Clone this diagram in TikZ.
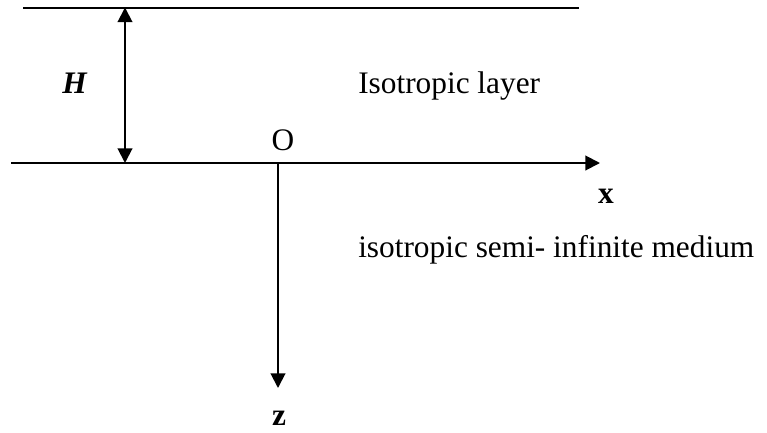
\documentclass[tikz,border=0pt]{standalone}
\usepackage{fontspec}
\setmainfont{Liberation Serif}
\usetikzlibrary{arrows.meta}
\begin{document}
\begin{tikzpicture}[x=0.75pt,y=-0.75pt,
  ln/.style={line width=1.5pt},
  arr/.style={ln,-{Triangle[length=11pt,width=11pt]}},
  darr/.style={ln,{Triangle[length=11pt,width=11pt]}-{Triangle[length=11pt,width=11pt]}},
  lbl/.style={inner sep=0pt,font=\fontsize{23.5}{28}\selectfont}]
\useasboundingbox (0,0) rectangle (767,432);
\coordinate (tl) at (23,7.5);
\coordinate (tr) at (579,7.5);
\coordinate (al) at (11,163);
\coordinate (ar) at (600,163);
\coordinate (ht) at (125,7.5);
\coordinate (hb) at (125,163);
\coordinate (o) at (278,163);
\coordinate (zb) at (278,388);
\draw[ln] (tl) -- (tr);
\draw[arr] (al) -- (ar);
\draw[darr] (ht) -- (hb);
\draw[arr] (o) -- (zb);
\node[lbl,anchor=base west] (hl) at (62,93) {\textbf{\textit{H}}};
\node[lbl,anchor=base west] (iso) at (358,93) {Isotropic layer};
\node[lbl,anchor=base] (ol) at (283,150) {O};
\node[lbl,anchor=base] (xl) at (606,203) {\textbf{x}};
\node[lbl,anchor=base west] (semi) at (358,257) {isotropic semi- infinite medium};
\node[lbl,anchor=base] (zl) at (279,425) {\textbf{z}};
\end{tikzpicture}
\end{document}
